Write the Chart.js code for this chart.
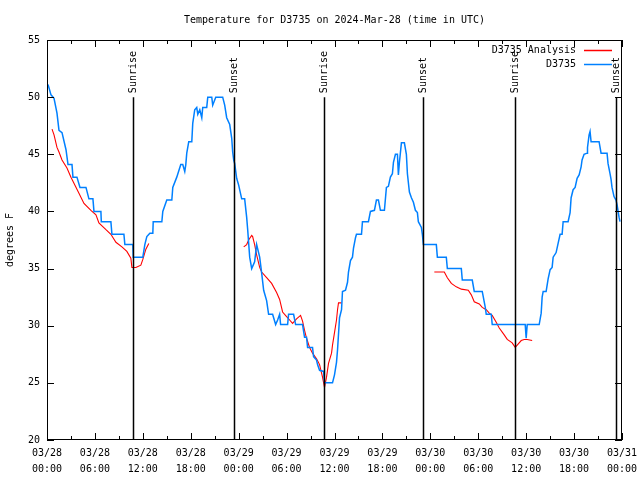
<!DOCTYPE html>
<html>
<head>
<meta charset="utf-8">
<script src="https://cdn.jsdelivr.net/npm/chart.js@4"></script>
<style>
  html, body { margin: 0; padding: 0; background: #fff; }
  #wrap { width: 640px; height: 480px; }
</style>
</head>
<body>
<div id="wrap"><canvas id="chart1" width="640" height="480"></canvas></div>
<script>
// hours after 03/28 00:00 UTC
const obsHours = [0.13, 0.5, 0.88, 1.25, 1.5, 1.88, 2.38, 2.63, 3.13, 3.25, 3.75, 4.13, 4.88, 5.25, 5.75, 5.88, 6.75, 6.8, 8.0, 8.13,
    9.63, 9.75, 10.75, 10.8, 12.0, 12.25, 12.5, 12.88, 13.25, 13.3, 14.38, 14.5, 15.0, 15.63, 15.75, 16.25, 16.75, 17.0, 17.25, 17.38,
    17.5, 17.75, 18.13, 18.25, 18.5, 18.75, 18.88, 19.13, 19.38, 19.5, 20.0, 20.13, 20.63, 20.75, 21.13, 22.0, 22.25, 22.5, 22.88, 23.13,
    23.25, 23.38, 23.5, 23.75, 24.0, 24.38, 24.75, 25.0, 25.13, 25.38, 25.63, 26.0, 26.25, 26.63, 26.88, 27.13, 27.5, 27.75, 28.25, 28.63,
    28.88, 29.13, 29.25, 30.13, 30.25, 30.88, 31.13, 32.0, 32.25, 32.5, 32.63, 33.25, 33.38, 33.75, 33.88, 34.13, 34.63, 34.75, 35.75, 36.0,
    36.25, 36.38, 36.63, 36.88, 37.0, 37.38, 37.63, 37.75, 38.0, 38.25, 38.38, 38.63, 38.75, 39.38, 39.5, 40.25, 40.5, 41.0, 41.25, 41.5,
    41.75, 42.25, 42.5, 42.75, 43.0, 43.25, 43.38, 43.63, 43.88, 44.0, 44.13, 44.38, 44.75, 45.0, 45.13, 45.38, 45.63, 45.88, 46.13, 46.38,
    46.5, 46.88, 47.0, 47.13, 48.75, 48.88, 50.0, 50.13, 51.88, 52.0, 53.25, 53.5, 54.5, 54.88, 55.0, 55.63, 55.75, 59.88, 60.0, 60.13,
    61.63, 61.88, 62.0, 62.13, 62.5, 62.75, 63.0, 63.25, 63.38, 63.75, 64.0, 64.25, 64.5, 64.63, 65.25, 65.5, 65.63, 65.88, 66.13, 66.38,
    66.63, 66.88, 67.0, 67.25, 67.63, 67.68, 67.88, 68.0, 68.13, 69.13, 69.38, 70.13, 70.25, 70.5, 70.63, 70.75, 71.0, 71.25, 71.38, 71.63,
    71.75];
const obsTemps = [51.1, 50.2, 49.9, 48.6, 47.1, 46.9, 45.4, 44.1, 44.1, 43.0, 43.0, 42.1, 42.1, 41.1, 41.1, 40.0, 40.0, 39.1, 39.1, 38.0,
    38.0, 37.1, 37.1, 36.0, 36.0, 37.1, 37.8, 38.1, 38.1, 39.1, 39.1, 40.0, 41.0, 41.0, 42.1, 43.0, 44.1, 44.1, 43.5, 44.1,
    45.1, 46.1, 46.1, 47.7, 48.9, 49.1, 48.5, 48.9, 48.2, 49.1, 49.1, 50.0, 50.0, 49.3, 50.0, 50.0, 49.3, 48.2, 47.6, 46.4,
    45.2, 44.5, 44.2, 42.9, 42.3, 41.1, 41.1, 39.5, 38.4, 36.0, 35.0, 35.6, 37.1, 36.0, 34.6, 33.1, 32.2, 31.0, 31.0, 30.1,
    30.5, 31.0, 30.1, 30.1, 31.0, 31.0, 30.1, 30.1, 29.0, 29.0, 28.1, 28.1, 27.3, 27.0, 26.6, 26.1, 26.0, 25.0, 25.0, 25.7,
    26.8, 27.9, 30.7, 31.4, 33.0, 33.1, 33.8, 34.7, 35.7, 36.0, 36.8, 37.7, 38.0, 38.0, 39.1, 39.1, 40.0, 40.1, 41.0, 41.0,
    40.1, 40.1, 42.1, 42.2, 43.0, 43.3, 44.3, 45.0, 45.0, 43.2, 44.3, 46.0, 46.0, 45.0, 43.3, 41.7, 41.2, 40.8, 40.1, 39.9,
    39.1, 38.6, 38.0, 37.1, 37.1, 36.0, 36.0, 35.0, 35.0, 34.0, 34.0, 33.0, 33.0, 31.6, 31.0, 31.0, 30.1, 30.1, 28.9, 30.1,
    30.1, 31.1, 32.5, 33.0, 33.0, 34.1, 34.9, 35.1, 36.0, 36.4, 37.2, 38.0, 38.0, 39.1, 39.1, 39.9, 41.2, 41.9, 42.1, 42.9,
    43.2, 43.9, 44.5, 45.0, 45.1, 45.6, 46.7, 47.0, 46.1, 46.1, 45.1, 45.1, 44.2, 43.3, 42.8, 42.1, 41.3, 41.0, 40.6, 39.5,
    39.1];

// analysis series, null = gap
const anaHours = [0.63, 0.88, 1.25, 1.5, 1.88, 2.5, 3.0, 3.5, 4.0, 4.63, 5.5, 6.13, 6.5, 7.38, 8.0, 8.63, 9.38, 10.0, 10.5, 10.63,
    11.13, 11.75, 12.0, 12.38, 12.75, 18.0,
    24.63, 25.0, 25.25, 25.63, 25.75, 26.0, 26.25, 26.63, 26.88, 27.5, 28.13, 28.75, 29.13, 29.5, 30.0, 30.38, 30.75, 31.25, 31.75, 32.0,
    32.25, 32.5, 32.88, 33.25, 33.75, 34.13, 34.5, 34.75, 35.0, 35.25, 35.63, 35.75, 36.0, 36.25, 36.38, 36.5, 36.88, 42.0,
    48.5, 49.75, 50.13, 50.63, 51.25, 51.88, 52.75, 53.13, 53.5, 54.13, 54.5, 55.0, 55.38, 55.75, 56.25, 56.63, 57.25, 57.63, 58.25, 58.63,
    58.88, 59.38, 59.75, 60.13, 60.75];
const anaTemps = [47.2, 46.7, 45.6, 45.2, 44.5, 43.8, 43.0, 42.3, 41.6, 40.7, 40.1, 39.7, 39.0, 38.4, 38.0, 37.3, 36.9, 36.5, 35.9, 35.1,
    35.1, 35.3, 35.8, 36.7, 37.2, null,
    36.9, 37.1, 37.5, 37.9, 37.8, 37.1, 36.2, 35.1, 34.7, 34.2, 33.7, 32.9, 32.3, 31.2, 30.8, 30.5, 30.2, 30.6, 30.9, 30.4,
    29.6, 28.9, 28.1, 27.6, 27.1, 26.6, 25.5, 24.6, 25.5, 26.7, 27.6, 28.3, 29.4, 30.5, 31.4, 32.0, 32.0, null,
    34.7, 34.7, 34.2, 33.7, 33.4, 33.2, 33.1, 32.7, 32.1, 31.9, 31.6, 31.4, 31.1, 30.9, 30.3, 29.8, 29.2, 28.8, 28.5, 28.1,
    28.3, 28.7, 28.8, 28.8, 28.7];

const sunHours = [10.75, 23.38, 34.63, 47.13, 58.63, 71.25];
const sunLabels = ['Sunrise', 'Sunset', 'Sunrise', 'Sunset', 'Sunrise', 'Sunset'];

const dayLabels = ['03/28', '03/28', '03/28', '03/28', '03/29', '03/29', '03/29', '03/29', '03/30', '03/30', '03/30', '03/30', '03/31'];
const timeLabels = ['00:00', '06:00', '12:00', '18:00', '00:00', '06:00', '12:00', '18:00', '00:00', '06:00', '12:00', '18:00', '00:00'];

const FONT = '"DejaVu Sans Mono", "Liberation Mono", monospace';

// gnuplot-ish extras: title, inward ticks, sun lines, legend
const gnuplotBits = {
    id: 'gnuplotBits',
    afterDatasetsDraw(chart) {
        const ctx = chart.ctx;
        const a = chart.chartArea;
        const xs = chart.scales.x, ys = chart.scales.y;
        ctx.save();
        ctx.fillStyle = '#000';
        ctx.strokeStyle = '#000';
        ctx.font = '10px ' + FONT;

        // title
        ctx.textAlign = 'center';
        ctx.textBaseline = 'middle';
        ctx.fillText('Temperature for D3735 on 2024-Mar-28 (time in UTC)', (a.left + a.right) / 2, 20);

        // sunrise / sunset
        ctx.lineWidth = 1.5;
        sunHours.forEach((h, i) => {
            const px = Math.round(xs.getPixelForValue(h)) + 0.5;
            ctx.beginPath();
            ctx.moveTo(px, ys.getPixelForValue(50));
            ctx.lineTo(px, a.bottom);
            ctx.stroke();
            ctx.save();
            ctx.translate(px, ys.getPixelForValue(50) - 4);
            ctx.rotate(-Math.PI / 2);
            ctx.textAlign = 'left';
            ctx.textBaseline = 'middle';
            ctx.fillText(sunLabels[i], 0, 0);
            ctx.restore();
        });

        // border and ticks
        ctx.lineWidth = 1;
        ctx.strokeRect(a.left + 0.5, a.top + 0.5, a.right - a.left - 1, a.bottom - a.top - 1);
        ctx.beginPath();
        for (let h = 0; h <= 72; h += 3) {
            const px = Math.round(xs.getPixelForValue(h)) + 0.5;
            const len = h % 6 === 0 ? 7 : 4;
            ctx.moveTo(px, a.bottom); ctx.lineTo(px, a.bottom - len);
            ctx.moveTo(px, a.top); ctx.lineTo(px, a.top + len);
        }
        for (let v = 20; v <= 55; v += 5) {
            const py = Math.round(ys.getPixelForValue(v)) + 0.5;
            ctx.moveTo(a.left, py); ctx.lineTo(a.left + 7, py);
            ctx.moveTo(a.right, py); ctx.lineTo(a.right - 7, py);
        }
        ctx.stroke();

        // legend
        const rows = [['D3735 Analysis', 'rgb(255,0,0)', 50], ['D3735', 'rgb(0,128,255)', 64]];
        rows.forEach(r => {
            ctx.textAlign = 'right';
            ctx.textBaseline = 'middle';
            ctx.fillStyle = '#000';
            ctx.fillText(r[0], 576, r[2]);
            ctx.strokeStyle = r[1];
            ctx.lineWidth = 1.5;
            ctx.beginPath();
            ctx.moveTo(584, r[2] + 0.5);
            ctx.lineTo(612, r[2] + 0.5);
            ctx.stroke();
        });
        ctx.restore();
    }
};

new Chart(document.getElementById('chart1'), {
    type: 'line',
    data: {
        datasets: [{
            label: 'D3735',
            data: obsHours.map((h, i) => ({ x: h, y: obsTemps[i] })),
            borderColor: 'rgb(0,128,255)',
            borderWidth: 1.5,
            pointRadius: 0,
            tension: 0
        }, {
            label: 'D3735 Analysis',
            data: anaHours.map((h, i) => ({ x: h, y: anaTemps[i] })),
            borderColor: 'rgb(255,0,0)',
            borderWidth: 1.1,
            pointRadius: 0,
            tension: 0,
            spanGaps: false
        }]
    },
    options: {
        responsive: false,
        animation: false,
        layout: { padding: { top: 40, right: 18, left: 0, bottom: 0 } },
        plugins: {
            legend: { display: false },
            title: { display: false },
            tooltip: { enabled: false }
        },
        scales: {
            x: {
                type: 'linear',
                min: 0,
                max: 72,
                grid: { display: false, drawTicks: false },
                border: { display: false },
                afterFit: s => { s.height = 40; s.paddingLeft = 0; s.paddingRight = 0; },
                ticks: {
                    stepSize: 6,
                    autoSkip: false,
                    maxRotation: 0,
                    padding: 5,
                    color: '#000',
                    font: { family: FONT, size: 10, lineHeight: 1.6 },
                    callback: v => [dayLabels[v / 6], timeLabels[v / 6]]
                }
            },
            y: {
                min: 20,
                max: 55,
                grid: { display: false, drawTicks: false },
                border: { display: false },
                afterFit: s => { s.width = 47; s.paddingTop = 0; s.paddingBottom = 0; },
                ticks: {
                    stepSize: 5,
                    padding: 7,
                    color: '#000',
                    font: { family: FONT, size: 10 }
                },
                title: {
                    display: true,
                    text: 'degrees F',
                    color: '#000',
                    font: { family: FONT, size: 10 },
                    padding: { top: 4, bottom: 0 }
                }
            }
        }
    },
    plugins: [gnuplotBits]
});
</script>
</body>
</html>
